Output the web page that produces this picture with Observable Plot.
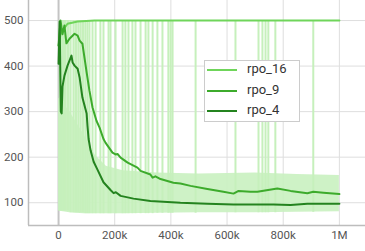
<!DOCTYPE html>
<html><head><meta charset="utf-8">
<script src="https://cdn.jsdelivr.net/npm/d3@7"></script>
<script src="https://cdn.jsdelivr.net/npm/@observablehq/plot@0.6"></script>
<style>
body{margin:0;background:#fff;}
#wrap{position:relative;width:365px;height:251px;font-family:Roboto,"DejaVu Sans",sans-serif;}
#legend{position:absolute;left:204px;top:60px;width:96px;height:62px;border:1px solid #ccc;background:#fff;box-sizing:border-box;}
.item{position:absolute;left:0;height:14px;width:94px;}
.sw{position:absolute;left:2px;top:6px;width:30px;height:2px;}
.lb{position:absolute;left:42px;top:-1px;font-size:13px;color:#333;line-height:14px;}
</style></head>
<body><div id="wrap"><div id="chart"></div><div id="legend"></div></div>
<script>
// ---- data (steps in thousands) ----
const seriesNames = ["rpo_16", "rpo_9", "rpo_4"];
const seriesColors = ["#6fd55a", "#3dab2c", "#24831f"];

const steps16 = [0, 7, 14, 32, 68, 128, 300, 600, 1000];
const vals16  = [445, 470, 478, 493, 498, 500, 500, 500, 500];

const steps9 = [0, 7, 14, 21, 28, 39, 57, 68, 75, 85, 93, 100, 110, 121, 135, 146, 160, 167, 192, 203, 210, 221, 246, 281, 292, 327, 335, 345, 363, 409, 434, 470, 530, 587, 623, 641, 683, 708, 779, 826, 886, 907, 943, 1000];
const vals9  = [445, 500, 470, 489, 450, 460, 471, 467, 456, 449, 416, 386, 346, 309, 280, 265, 240, 232, 210, 206, 207, 199, 188, 177, 170, 162, 155, 158, 152, 144, 142, 137, 130, 124, 120, 126, 124, 124, 131, 126, 121, 124, 122, 119];

const steps4 = [0, 4, 8, 11, 14, 21, 32, 46, 50, 57, 68, 75, 85, 96, 100, 103, 107, 114, 125, 139, 160, 185, 196, 204, 221, 267, 327, 434, 530, 623, 683, 765, 826, 886, 943, 1000];
const vals4  = [405, 498, 300, 296, 355, 379, 401, 423, 408, 401, 394, 375, 331, 305, 296, 269, 240, 215, 190, 172, 145, 128, 121, 123, 115, 109, 104, 100, 98, 96, 96, 96, 95, 98, 98, 98];

// raw (unsmoothed) noise envelope
const bandSteps = [0, 40, 90, 130, 170, 230, 350, 500, 700, 850, 1000];
const bandLow   = [82, 78, 76, 76, 76, 76, 77, 78, 78, 79, 80];
const bandHigh  = [330, 300, 250, 205, 180, 170, 165, 163, 165, 162, 160];

// raw spikes reaching the top
const spikeSteps = [4, 7, 11, 14, 18, 21, 25, 32, 36, 43, 53, 60, 64, 71, 78, 85, 89, 96, 103, 110, 121, 132, 149, 160, 178, 185, 203, 228, 238, 249, 263, 274, 292, 310, 320, 335, 352, 370, 391, 399, 406, 488, 630, 712, 726, 737, 747, 772, 907];
const spikeTop = 500;

const xTicks = [0, 200000, 400000, 600000, 800000, 1000000];
const xTickLabels = ["0", "200k", "400k", "600k", "800k", "1M"];
const yTicks = [100, 200, 300, 400, 500];
const xDomain = [-107000, 1093000];
const yDomain = [50, 544];

const rows = (s, v) => s.map((k, i) => ({x: k * 1000, y: v[i]}));
const band = bandSteps.map((k, i) => ({x: k * 1000, lo: bandLow[i], hi: bandHigh[i]}));
const spikes = spikeSteps.map(k => {
  let j = 0; while (j < bandSteps.length - 1 && bandSteps[j + 1] <= k) j++;
  return {x: k * 1000, lo: bandLow[j], hi: spikeTop};
});
const allSeries = [rows(steps16, vals16), rows(steps9, vals9), rows(steps4, vals4)];

const chart = Plot.plot({
  width: 365, height: 251,
  marginLeft: 28, marginRight: 0, marginTop: 0, marginBottom: 26,
  style: {fontFamily: "Roboto, sans-serif", fontSize: "11.5px", color: "#555", background: "#fff"},
  x: {domain: xDomain, ticks: xTicks, tickFormat: d => xTickLabels[xTicks.indexOf(d)], tickSize: 0, tickPadding: 5, label: null},
  y: {domain: yDomain, ticks: yTicks, tickSize: 0, tickPadding: 5, label: null},
  marks: [
    Plot.gridX(xTicks, {stroke: "#dedede", strokeOpacity: 1}),
    Plot.gridY(yTicks, {stroke: "#dedede", strokeOpacity: 1}),
    Plot.ruleX([0], {stroke: "#c4c4c4", strokeWidth: 2}),
    Plot.areaY(band, {x: "x", y1: "lo", y2: "hi", fill: "#c9f1c0", fillOpacity: 0.9}),
    Plot.ruleX(spikes, {x: "x", y1: "lo", y2: "hi", stroke: "#c6f0bc", strokeWidth: 2}),
    ...allSeries.map((d, i) => Plot.line(d, {x: "x", y: "y", stroke: seriesColors[i], strokeWidth: 2})),
    Plot.ruleX([xDomain[0]], {stroke: "#bdbdbd", strokeWidth: 1.5}),
    Plot.ruleY([yDomain[0]], {stroke: "#bdbdbd", strokeWidth: 1.5})
  ]
});
document.getElementById("chart").appendChild(chart);

const legend = document.getElementById("legend");
seriesNames.forEach((n, i) => {
  const it = document.createElement("div");
  it.className = "item";
  it.style.top = (2 + i * 20.5) + "px";
  it.innerHTML = `<div class="sw" style="background:${seriesColors[i]}"></div><div class="lb">${n}</div>`;
  legend.appendChild(it);
});
</script>
</body></html>
